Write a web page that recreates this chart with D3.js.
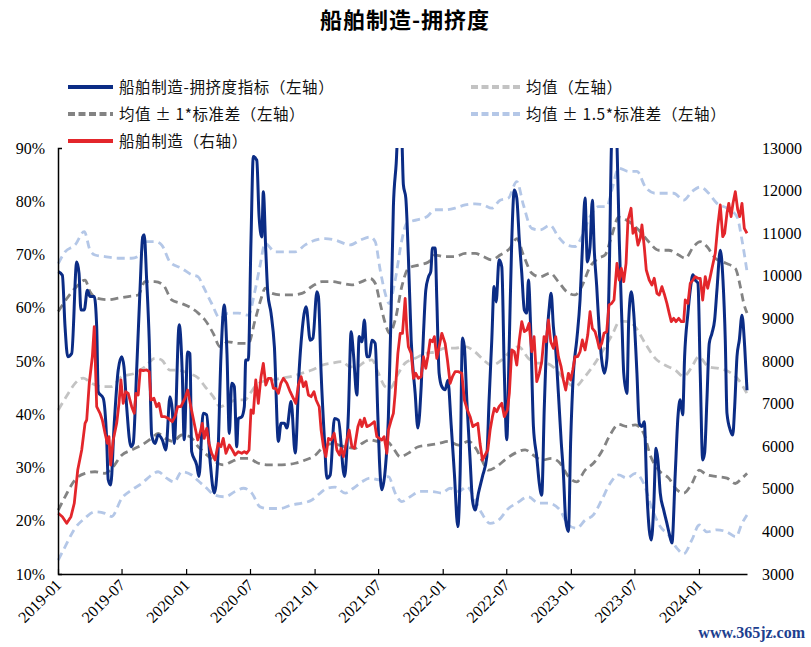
<!DOCTYPE html>
<html>
<head>
<meta charset="utf-8">
<script src="https://cdn.jsdelivr.net/npm/d3@7/dist/d3.min.js"></script>
<style>
body { margin: 0; background: #fff; }
</style>
</head>
<body>
<div id="chart"></div>
<script>
// time is decimal year, values: crowd index in %, shipbuilding index in points
var crowding = [
	[2019.002,66.8],[2019.034,66.1],[2019.055,56.4],[2019.076,50.8],[2019.107,51.4],[2019.146,68.6],[2019.164,66.5],
	[2019.179,59.6],[2019.205,59.6],[2019.229,63.3],[2019.250,62.1],[2019.283,62.1],[2019.302,56.4],[2019.314,44.2],
	[2019.353,43.0],[2019.380,35.2],[2019.392,27.7],[2019.411,26.7],[2019.439,38.3],[2019.470,48.3],[2019.497,50.8],
	[2019.515,48.9],[2019.536,41.4],[2019.569,33.9],[2019.587,34.5],[2019.614,48.3],[2019.640,63.3],[2019.661,73.3],
	[2019.673,73.7],[2019.692,65.2],[2019.712,53.9],[2019.731,36.1],[2019.757,34.5],[2019.782,36.1],[2019.814,35.2],
	[2019.842,33.3],[2019.874,43.3],[2019.892,40.8],[2019.907,34.5],[2019.946,56.8],[2019.970,47.7],[2019.985,35.2],
	[2020.012,51.7],[2020.030,51.4],[2020.043,33.0],[2020.082,30.5],[2020.100,28.3],[2020.133,40.2],[2020.160,39.9],
	[2020.186,31.4],[2020.219,25.2],[2020.246,31.4],[2020.271,50.8],[2020.297,60.5],[2020.318,51.4],[2020.336,36.4],
	[2020.355,45.8],[2020.375,45.2],[2020.394,33.9],[2020.406,39.2],[2020.433,39.5],[2020.453,41.4],[2020.464,50.2],
	[2020.484,50.2],[2020.505,72.7],[2020.523,88.4],[2020.550,87.7],[2020.568,77.1],[2020.589,73.3],[2020.601,81.8],
	[2020.620,70.8],[2020.636,62.7],[2020.661,59.0],[2020.687,52.7],[2020.718,34.9],[2020.739,38.3],[2020.765,38.3],
	[2020.784,37.4],[2020.817,42.4],[2020.849,32.7],[2020.880,48.3],[2020.901,55.2],[2020.934,60.2],[2020.966,53.9],
	[2020.987,54.3],[2021.018,63.0],[2021.030,62.1],[2021.051,47.7],[2021.077,35.2],[2021.096,28.0],[2021.122,28.6],
	[2021.155,39.2],[2021.186,38.9],[2021.233,28.3],[2021.264,40.2],[2021.285,55.5],[2021.303,51.4],[2021.330,43.6],
	[2021.348,54.6],[2021.369,53.6],[2021.389,57.7],[2021.408,50.8],[2021.428,50.8],[2021.447,53.9],[2021.473,53.3],
	[2021.494,39.5],[2021.506,31.4],[2021.525,25.8],[2021.551,29.5],[2021.576,39.5],[2021.598,60.2],[2021.615,79.0],
	[2021.637,87.1],[2021.656,95.5],[2021.679,93.0],[2021.693,83.1],[2021.712,80.6],[2021.732,69.6],[2021.754,53.9],
	[2021.785,43.9],[2021.806,37.4],[2021.832,45.2],[2021.850,55.2],[2021.868,63.3],[2021.889,65.8],[2021.907,66.8],
	[2021.920,71.2],[2021.941,71.2],[2021.954,61.5],[2021.972,47.7],[2021.993,45.2],[2022.019,44.6],[2022.040,46.4],
	[2022.066,38.0],[2022.091,28.9],[2022.118,18.9],[2022.136,28.9],[2022.154,54.3],[2022.169,52.7],[2022.188,42.7],
	[2022.214,31.4],[2022.232,23.9],[2022.253,22.0],[2022.279,25.2],[2022.310,28.3],[2022.344,32.0],[2022.362,42.7],
	[2022.383,53.9],[2022.401,64.0],[2022.417,61.1],[2022.440,69.0],[2022.461,67.7],[2022.481,47.7],[2022.500,35.2],
	[2022.520,53.9],[2022.539,72.7],[2022.559,82.1],[2022.578,80.6],[2022.598,72.7],[2022.617,66.5],[2022.637,59.6],
	[2022.656,59.0],[2022.669,65.2],[2022.687,55.8],[2022.708,37.7],[2022.734,32.0],[2022.754,27.0],[2022.773,24.8],
	[2022.793,41.4],[2022.812,53.9],[2022.830,59.6],[2022.846,62.7],[2022.864,56.4],[2022.882,52.1],[2022.903,43.9],
	[2022.924,35.2],[2022.942,28.9],[2022.960,20.1],[2022.981,18.0],[2022.999,35.2],[2023.020,47.7],[2023.046,53.9],
	[2023.072,61.5],[2023.093,72.7],[2023.111,80.6],[2023.129,68.6],[2023.150,71.5],[2023.168,80.2],[2023.183,70.8],
	[2023.202,64.0],[2023.220,56.4],[2023.241,50.2],[2023.261,47.7],[2023.282,50.5],[2023.300,66.5],[2023.319,92.0],
	[2023.341,97.0],[2023.360,91.0],[2023.378,72.7],[2023.399,57.1],[2023.413,47.7],[2023.438,43.9],[2023.452,57.7],
	[2023.472,63.0],[2023.491,59.0],[2023.516,47.7],[2023.534,38.3],[2023.555,37.7],[2023.573,38.6],[2023.594,25.2],
	[2023.612,18.3],[2023.628,16.4],[2023.647,22.6],[2023.665,33.6],[2023.680,31.4],[2023.698,25.2],[2023.725,22.0],
	[2023.750,19.5],[2023.768,17.6],[2023.789,15.8],[2023.815,28.9],[2023.836,39.5],[2023.854,42.7],[2023.873,39.9],
	[2023.888,50.8],[2023.914,59.0],[2023.932,63.3],[2023.953,66.2],[2023.971,65.2],[2023.992,64.6],[2024.010,47.7],
	[2024.029,31.4],[2024.044,32.7],[2024.062,42.7],[2024.080,53.3],[2024.101,55.2],[2024.122,57.7],[2024.140,63.3],
	[2024.166,70.8],[2024.187,65.2],[2024.205,53.9],[2024.218,40.2],[2024.244,37.0],[2024.263,36.1],[2024.278,41.4],
	[2024.296,50.8],[2024.314,53.9],[2024.335,58.6],[2024.356,52.7],[2024.374,44.5]
];

var shipIndex = [
	[2019.002,4425],[2019.034,4345],[2019.068,4190],[2019.101,4345],[2019.127,4660],[2019.154,5441],[2019.185,5910],
	[2019.211,6537],[2019.224,6615],[2019.244,7477],[2019.268,8100],[2019.283,8805],[2019.294,7711],[2019.302,6927],
	[2019.328,6772],[2019.346,6615],[2019.367,6303],[2019.385,6068],[2019.398,6224],[2019.411,5559],[2019.431,6146],
	[2019.458,6537],[2019.476,7007],[2019.491,7554],[2019.509,7007],[2019.528,7280],[2019.548,7241],[2019.575,6927],
	[2019.595,6772],[2019.608,7241],[2019.626,7202],[2019.642,7789],[2019.665,7773],[2019.692,7789],[2019.712,7750],
	[2019.725,7085],[2019.749,7124],[2019.770,6927],[2019.788,7007],[2019.809,6693],[2019.835,6693],[2019.860,6655],
	[2019.892,6576],[2019.913,6693],[2019.934,6927],[2019.959,6927],[2019.991,7124],[2020.012,7319],[2020.037,6927],
	[2020.063,6537],[2020.090,6146],[2020.108,6303],[2020.126,6537],[2020.141,6185],[2020.160,6420],[2020.178,6068],
	[2020.199,5834],[2020.225,5676],[2020.250,6068],[2020.271,5989],[2020.289,6185],[2020.310,5834],[2020.336,6028],
	[2020.360,5911],[2020.381,5794],[2020.406,5872],[2020.433,5834],[2020.453,5872],[2020.472,5834],[2020.490,5911],
	[2020.505,6850],[2020.523,6772],[2020.542,7554],[2020.562,7007],[2020.583,7632],[2020.601,7946],[2020.620,7437],
	[2020.640,7594],[2020.661,7594],[2020.679,7359],[2020.698,7359],[2020.718,7241],[2020.737,7476],[2020.757,7594],
	[2020.784,7476],[2020.810,7280],[2020.835,7124],[2020.854,7007],[2020.874,7437],[2020.895,7632],[2020.913,7398],
	[2020.932,7515],[2020.952,7202],[2020.973,7163],[2020.995,7280],[2021.012,7085],[2021.036,6927],[2021.051,6380],
	[2021.069,5989],[2021.088,5754],[2021.108,6185],[2021.129,6146],[2021.153,6303],[2021.174,5911],[2021.194,5794],
	[2021.207,5951],[2021.225,5754],[2021.252,6146],[2021.270,6380],[2021.291,5989],[2021.311,5951],[2021.338,6458],
	[2021.356,6615],[2021.369,6458],[2021.389,6655],[2021.408,6458],[2021.434,6498],[2021.467,6576],[2021.486,6224],
	[2021.506,6185],[2021.525,6146],[2021.543,6224],[2021.564,5834],[2021.576,6380],[2021.598,6615],[2021.615,6772],
	[2021.629,7241],[2021.650,8180],[2021.668,8650],[2021.686,8650],[2021.707,9472],[2021.720,8728],[2021.732,8336],
	[2021.754,8180],[2021.772,7594],[2021.790,7711],[2021.810,7594],[2021.832,7632],[2021.850,8101],[2021.868,7828],
	[2021.884,8101],[2021.902,8493],[2021.920,8453],[2021.935,8571],[2021.954,8063],[2021.972,8336],[2021.993,8650],
	[2022.019,8415],[2022.037,8024],[2022.058,7476],[2022.076,7632],[2022.097,7750],[2022.123,7750],[2022.149,7711],
	[2022.169,7085],[2022.193,6850],[2022.214,6693],[2022.235,6458],[2022.253,6498],[2022.274,6537],[2022.292,6050],
	[2022.310,5676],[2022.331,5794],[2022.352,5911],[2022.370,6380],[2022.388,6693],[2022.403,6890],[2022.422,6811],
	[2022.440,6928],[2022.461,7007],[2022.481,6693],[2022.505,6850],[2022.520,7241],[2022.539,8258],[2022.559,8218],
	[2022.578,7906],[2022.598,8493],[2022.617,8923],[2022.637,8688],[2022.656,8728],[2022.674,8884],[2022.695,8218],
	[2022.713,8571],[2022.734,7515],[2022.754,7711],[2022.773,7985],[2022.791,8571],[2022.807,8453],[2022.825,8962],
	[2022.843,8453],[2022.864,8297],[2022.882,8571],[2022.903,8101],[2022.924,7867],[2022.942,7554],[2022.960,7319],
	[2022.981,7711],[2022.999,7554],[2023.015,7789],[2023.033,8101],[2023.054,8101],[2023.072,8218],[2023.090,8493],
	[2023.111,8258],[2023.132,8610],[2023.150,9157],[2023.168,8767],[2023.189,8688],[2023.207,8493],[2023.222,8297],
	[2023.241,8415],[2023.259,8650],[2023.280,8688],[2023.298,9315],[2023.319,9354],[2023.337,9432],[2023.360,10293],
	[2023.378,9901],[2023.394,10176],[2023.413,9862],[2023.431,10293],[2023.446,11310],[2023.470,11585],[2023.485,10998],
	[2023.503,11115],[2023.524,10723],[2023.542,10880],[2023.555,11193],[2023.573,10684],[2023.589,10136],[2023.612,9901],
	[2023.633,9784],[2023.651,9941],[2023.672,9589],[2023.690,9549],[2023.711,9745],[2023.732,9549],[2023.750,9354],
	[2023.768,9119],[2023.784,8923],[2023.803,9002],[2023.821,8923],[2023.842,9002],[2023.862,8923],[2023.881,8923],
	[2023.893,9432],[2023.914,9354],[2023.932,9824],[2023.953,9901],[2023.971,9980],[2023.992,9941],[2024.010,9941],
	[2024.029,9432],[2024.049,9980],[2024.068,9706],[2024.088,9980],[2024.107,10254],[2024.127,10528],[2024.146,11153],
	[2024.166,11662],[2024.185,10918],[2024.200,10998],[2024.218,11467],[2024.232,11702],[2024.250,11389],[2024.265,11702],
	[2024.283,11975],[2024.302,11545],[2024.317,11389],[2024.335,11702],[2024.353,11115],[2024.374,10998]
];

var meanLine = [
	[2019.002,40.8],[2019.080,43.9],[2019.133,45.8],[2019.197,46.8],[2019.263,45.8],[2019.341,45.2],[2019.419,45.2],
	[2019.497,47.1],[2019.601,47.7],[2019.679,48.9],[2019.757,50.5],[2019.809,50.2],[2019.874,48.3],[2019.938,48.3],
	[2020.016,47.7],[2020.094,46.8],[2020.147,45.2],[2020.211,43.3],[2020.264,41.4],[2020.328,42.1],[2020.394,42.7],
	[2020.459,42.7],[2020.498,43.9],[2020.537,45.2],[2020.589,46.1],[2020.667,46.4],[2020.745,46.8],[2020.823,47.1],
	[2020.901,47.7],[2020.979,48.3],[2021.057,49.2],[2021.135,49.6],[2021.213,49.9],[2021.278,48.9],[2021.330,48.9],
	[2021.395,49.9],[2021.447,50.2],[2021.498,47.7],[2021.551,45.2],[2021.590,44.9],[2021.654,47.7],[2021.707,49.6],
	[2021.785,50.5],[2021.863,51.4],[2021.941,51.7],[2022.019,52.4],[2022.097,52.4],[2022.175,52.7],[2022.253,51.7],
	[2022.318,50.2],[2022.383,49.2],[2022.461,50.2],[2022.539,52.1],[2022.591,52.7],[2022.669,50.5],[2022.734,49.6],
	[2022.799,49.6],[2022.877,48.6],[2022.955,46.4],[2023.033,45.2],[2023.111,47.1],[2023.189,49.6],[2023.254,52.1],
	[2023.322,54.9],[2023.384,57.5],[2023.452,57.4],[2023.503,56.4],[2023.581,53.3],[2023.659,50.5],[2023.737,49.2],
	[2023.815,48.3],[2023.881,47.1],[2023.945,48.9],[2023.998,50.8],[2024.076,48.9],[2024.154,48.6],[2024.232,48.0],
	[2024.310,46.4],[2024.374,43.9]
];

var upper1 = [
	[2019.002,59.3],[2019.080,62.1],[2019.146,64.0],[2019.211,65.2],[2019.250,63.0],[2019.302,61.8],[2019.392,61.5],
	[2019.470,61.8],[2019.548,62.1],[2019.626,62.4],[2019.679,64.9],[2019.757,64.9],[2019.821,64.3],[2019.887,61.5],
	[2019.965,60.8],[2020.043,59.9],[2020.094,59.0],[2020.147,57.7],[2020.211,55.2],[2020.264,52.7],[2020.328,53.6],
	[2020.406,53.3],[2020.484,53.3],[2020.537,57.7],[2020.589,62.1],[2020.615,63.7],[2020.667,62.7],[2020.745,62.4],
	[2020.823,62.4],[2020.901,62.7],[2020.979,64.0],[2021.057,64.9],[2021.135,64.9],[2021.213,64.6],[2021.291,64.3],
	[2021.369,64.9],[2021.434,65.5],[2021.473,64.6],[2021.512,60.8],[2021.551,57.1],[2021.585,55.2],[2021.629,57.7],
	[2021.681,64.0],[2021.732,67.4],[2021.810,68.0],[2021.889,68.6],[2021.941,69.9],[2022.019,69.6],[2022.097,69.6],
	[2022.175,70.2],[2022.253,70.2],[2022.318,69.6],[2022.383,69.0],[2022.448,69.9],[2022.526,71.2],[2022.578,73.0],
	[2022.630,69.9],[2022.695,66.5],[2022.760,65.8],[2022.838,66.5],[2022.903,64.9],[2022.968,63.0],[2023.033,62.4],
	[2023.085,64.0],[2023.150,67.7],[2023.215,69.3],[2023.267,69.9],[2023.319,73.5],[2023.373,77.0],[2023.452,76.2],
	[2023.530,74.6],[2023.608,72.4],[2023.686,70.8],[2023.764,70.8],[2023.842,69.9],[2023.893,69.3],[2023.959,71.5],
	[2024.010,72.4],[2024.062,71.5],[2024.127,69.3],[2024.205,68.4],[2024.283,67.4],[2024.322,64.0],[2024.349,60.8],
	[2024.374,59.0]
];

var lower1 = [
	[2019.002,22.0],[2019.055,24.5],[2019.133,27.7],[2019.211,28.9],[2019.289,29.2],[2019.367,28.9],[2019.419,29.8],
	[2019.497,32.3],[2019.575,33.3],[2019.653,34.2],[2019.731,35.5],[2019.782,36.4],[2019.835,35.5],[2019.899,34.9],
	[2019.965,36.1],[2020.030,35.8],[2020.094,33.9],[2020.147,32.7],[2020.225,31.1],[2020.289,30.5],[2020.355,31.1],
	[2020.420,31.7],[2020.484,31.7],[2020.562,30.8],[2020.640,30.5],[2020.745,30.5],[2020.849,30.8],[2020.927,31.4],
	[2021.005,32.3],[2021.069,33.9],[2021.135,34.5],[2021.239,33.9],[2021.317,33.6],[2021.369,34.5],[2021.434,35.2],
	[2021.498,34.9],[2021.564,34.9],[2021.615,33.6],[2021.668,32.0],[2021.732,32.7],[2021.810,33.9],[2021.889,34.2],
	[2021.967,34.5],[2022.045,34.9],[2022.123,34.2],[2022.201,34.9],[2022.261,33.5],[2022.305,31.4],[2022.357,29.5],
	[2022.422,30.2],[2022.500,31.7],[2022.565,32.7],[2022.643,33.3],[2022.708,32.3],[2022.773,31.4],[2022.851,31.7],
	[2022.916,30.8],[2022.981,28.3],[2023.046,27.3],[2023.111,29.5],[2023.176,30.8],[2023.241,33.0],[2023.306,36.1],
	[2023.373,38.1],[2023.438,37.7],[2023.503,38.0],[2023.569,36.4],[2023.620,32.3],[2023.686,29.5],[2023.764,28.0],
	[2023.829,25.8],[2023.881,25.2],[2023.945,27.0],[2024.002,29.5],[2024.062,28.6],[2024.140,28.3],[2024.218,28.0],
	[2024.283,27.0],[2024.335,28.0],[2024.374,28.9]
];

var upper15 = [
	[2019.002,68.3],[2019.055,70.5],[2019.133,71.8],[2019.205,74.3],[2019.250,70.8],[2019.289,69.9],[2019.367,69.6],
	[2019.470,69.3],[2019.575,69.3],[2019.640,69.9],[2019.679,72.4],[2019.757,72.4],[2019.809,71.8],[2019.874,68.6],
	[2019.965,67.4],[2020.043,66.2],[2020.094,65.8],[2020.133,64.0],[2020.199,60.8],[2020.264,58.0],[2020.328,59.0],
	[2020.406,59.0],[2020.484,58.6],[2020.537,63.3],[2020.576,68.0],[2020.615,72.1],[2020.693,70.5],[2020.771,70.5],
	[2020.849,70.5],[2020.927,71.8],[2021.005,72.7],[2021.083,73.0],[2021.161,72.7],[2021.278,71.8],[2021.356,72.7],
	[2021.434,73.3],[2021.473,72.4],[2021.512,67.1],[2021.551,62.7],[2021.582,60.8],[2021.629,65.2],[2021.681,72.7],
	[2021.720,75.9],[2021.798,76.5],[2021.876,77.1],[2021.941,78.4],[2022.019,78.4],[2022.097,78.7],[2022.175,79.3],
	[2022.253,79.5],[2022.318,79.3],[2022.383,78.7],[2022.448,80.2],[2022.513,80.6],[2022.578,83.7],[2022.630,79.3],
	[2022.695,74.9],[2022.760,74.6],[2022.838,75.5],[2022.903,73.3],[2022.968,71.8],[2023.033,71.5],[2023.085,73.3],
	[2023.150,77.1],[2023.215,79.0],[2023.280,79.0],[2023.322,82.3],[2023.373,86.2],[2023.452,85.6],[2023.517,85.6],
	[2023.581,82.7],[2023.659,81.5],[2023.737,81.5],[2023.803,81.5],[2023.881,80.2],[2023.945,81.8],[2024.010,82.7],
	[2024.076,81.5],[2024.140,79.6],[2024.218,78.7],[2024.296,77.1],[2024.335,72.7],[2024.374,66.8]
];

var lower15 = [
	[2019.002,12.6],[2019.055,15.1],[2019.133,18.6],[2019.211,20.5],[2019.289,21.7],[2019.367,21.4],[2019.419,20.8],
	[2019.497,24.2],[2019.575,25.8],[2019.653,27.0],[2019.731,28.6],[2019.782,29.2],[2019.848,28.0],[2019.907,27.3],
	[2019.965,29.2],[2020.043,28.6],[2020.094,27.5],[2020.147,26.4],[2020.225,24.8],[2020.303,24.5],[2020.381,25.5],
	[2020.446,26.1],[2020.511,25.2],[2020.576,22.6],[2020.640,22.3],[2020.732,22.3],[2020.823,23.0],[2020.901,23.3],
	[2020.979,23.9],[2021.044,25.2],[2021.096,26.1],[2021.161,26.3],[2021.239,25.2],[2021.303,26.1],[2021.369,27.3],
	[2021.434,28.0],[2021.498,27.7],[2021.576,28.3],[2021.629,25.2],[2021.681,23.6],[2021.746,24.5],[2021.824,25.5],
	[2021.915,25.5],[2021.993,25.2],[2022.058,26.1],[2022.123,25.5],[2022.188,26.4],[2022.253,23.9],[2022.305,21.4],
	[2022.370,19.5],[2022.435,20.1],[2022.513,22.3],[2022.578,23.3],[2022.669,24.5],[2022.747,23.3],[2022.825,23.3],
	[2022.916,22.0],[2022.981,19.2],[2023.046,18.6],[2023.111,20.1],[2023.176,21.1],[2023.241,23.9],[2023.306,27.0],
	[2023.373,28.6],[2023.438,28.0],[2023.503,28.9],[2023.569,27.0],[2023.633,22.3],[2023.698,18.9],[2023.764,17.3],
	[2023.829,14.8],[2023.881,13.8],[2023.945,16.4],[2024.002,19.2],[2024.062,17.9],[2024.140,18.3],[2024.218,17.9],
	[2024.288,17.0],[2024.335,19.5],[2024.374,21.1]
];

var leftTicks = [10, 20, 30, 40, 50, 60, 70, 80, 90];
var rightTicks = [3000, 4000, 5000, 6000, 7000, 8000, 9000, 10000, 11000, 12000, 13000];
var xTickLabels = ["2019-01", "2019-07", "2020-01", "2020-07", "2021-01", "2021-07", "2022-01", "2022-07", "2023-01", "2023-07", "2024-01"];

var legendItems = [
	{ name: "船舶制造-拥挤度指标（左轴）", key: "crowd" },
	{ name: "均值（左轴）", key: "mean" },
	{ name: "均值 ± 1*标准差（左轴）", key: "std1" },
	{ name: "均值 ± 1.5*标准差（左轴）", key: "std15" },
	{ name: "船舶制造（右轴）", key: "ship" }
];

var styles = {
	crowd: { color: "#0b2c85", width: 3, dash: null },
	ship: { color: "#e3262b", width: 2.8, dash: null },
	mean: { color: "#c3c3c3", width: 2.8, dash: "8,5" },
	std1: { color: "#838383", width: 2.8, dash: "8,5" },
	std15: { color: "#b4c7e7", width: 2.8, dash: "8,5" }
};

var serif = "'Liberation Serif', 'Times New Roman', serif";

function yearToDate(t) {
	var y = Math.floor(t);
	var a = new Date(y, 0, 1), b = new Date(y + 1, 0, 1);
	return new Date(+a + (t - y) * (b - a));
}

var width = 811, height = 647;
var margin = { top: 148, right: 64, bottom: 73, left: 58 };
var innerW = width - margin.left - margin.right,
	innerH = height - margin.top - margin.bottom;

var svg = d3.select("#chart")
	.append("svg")
	.attr("width", width)
	.attr("height", height);

svg.append("text")
	.attr("x", 405)
	.attr("y", 28)
	.attr("text-anchor", "middle")
	.style("font-family", "'Noto Sans CJK SC', sans-serif")
	.style("font-weight", "bold")
	.style("font-size", "22px")
	.style("letter-spacing", "1px")
	.text("船舶制造-拥挤度");

// legend
var legendPos = [[68, 87], [471, 87], [68, 114], [471, 114], [68, 141]];
var legend = svg.append("g");
legendItems.forEach(function (d, i) {
	var s = styles[d.key];
	var p = legendPos[i];
	var lw = i % 2 === 0 ? 45 : 49;
	legend.append("line")
		.attr("x1", p[0]).attr("x2", p[0] + lw)
		.attr("y1", p[1]).attr("y2", p[1])
		.attr("stroke", s.color)
		.attr("stroke-width", 4)
		.attr("stroke-dasharray", s.dash ? "7,3.5" : null);
	legend.append("text")
		.attr("x", p[0] + lw + 6)
		.attr("y", p[1] + 6)
		.style("font-family", "'Noto Sans CJK SC', sans-serif")
		.style("font-size", "15.5px")
		.style("letter-spacing", "0.6px")
		.attr("fill", "#111")
		.text(d.name);
});

var g = svg.append("g")
	.attr("transform", "translate(" + margin.left + "," + margin.top + ")");

var x = d3.scaleTime()
	.domain([yearToDate(2019), yearToDate(crowding[crowding.length - 1][0])])
	.range([0, innerW]);

var yL = d3.scaleLinear().domain([10, 90]).range([innerH, 0]);
var yR = d3.scaleLinear().domain([3000, 13000]).range([innerH, 0]);

g.append("clipPath").attr("id", "plotClip")
	.append("rect").attr("x", -2).attr("y", 0).attr("width", innerW + 4).attr("height", innerH);

var lineL = d3.line()
	.x(function (d) { return x(yearToDate(d[0])); })
	.y(function (d) { return yL(d[1]); })
	.curve(d3.curveMonotoneX);

var lineR = d3.line()
	.x(function (d) { return x(yearToDate(d[0])); })
	.y(function (d) { return yR(d[1]); });

var plot = g.append("g").attr("clip-path", "url(#plotClip)");

var seriesList = [
	{ data: upper15, key: "std15", line: lineL },
	{ data: lower15, key: "std15", line: lineL },
	{ data: upper1, key: "std1", line: lineL },
	{ data: lower1, key: "std1", line: lineL },
	{ data: meanLine, key: "mean", line: lineL },
	{ data: crowding, key: "crowd", line: lineL },
	{ data: shipIndex, key: "ship", line: lineR }
];

seriesList.forEach(function (s) {
	var st = styles[s.key];
	plot.append("path")
		.datum(s.data)
		.attr("fill", "none")
		.attr("stroke", st.color)
		.attr("stroke-width", st.width)
		.attr("stroke-linejoin", "round")
		.attr("stroke-dasharray", st.dash)
		.attr("d", s.line);
});

// axes
var xTicks = xTickLabels.map(function (s) { return d3.timeParse("%Y-%m")(s); });
var xAxis = g.append("g")
	.attr("transform", "translate(0," + innerH + ")")
	.call(d3.axisBottom(x).tickValues(xTicks).tickSizeInner(-5).tickSizeOuter(0).tickFormat(d3.timeFormat("%Y-%m")));
xAxis.attr("font-family", serif);
xAxis.select(".domain").attr("stroke", "#000").attr("stroke-width", 1.5);
xAxis.selectAll(".tick line").attr("stroke", "#000").attr("stroke-width", 1.2);
xAxis.selectAll(".tick text")
	.attr("fill", "#000")
	.style("font-family", serif)
	.style("font-size", "16px")
	.attr("text-anchor", "end")
	.attr("dy", null)
	.attr("y", 0)
	.attr("transform", "translate(4,12) rotate(-45)");

var yAxisL = g.append("g")
	.call(d3.axisLeft(yL).tickValues(leftTicks).tickSizeInner(0).tickSizeOuter(-4).tickPadding(13)
		.tickFormat(function (d) { return d + "%"; }));
yAxisL.select(".domain").attr("stroke", "#000").attr("stroke-width", 1.5);
yAxisL.selectAll(".tick text").attr("fill", "#000").style("font-family", serif).style("font-size", "16px");

var yAxisR = g.append("g")
	.attr("transform", "translate(" + innerW + ",0)")
	.call(d3.axisRight(yR).tickValues(rightTicks).tickSize(0).tickPadding(15).tickFormat(d3.format("d")));
yAxisR.select(".domain").remove();
yAxisR.selectAll(".tick text").attr("fill", "#000").style("font-family", serif).style("font-size", "16px");

svg.append("text")
	.attr("x", 805)
	.attr("y", 638)
	.attr("text-anchor", "end")
	.attr("fill", "#1d3f8f")
	.style("font-family", serif)
	.style("font-size", "16px")
	.style("font-weight", "bold")
	.text("www.365jz.com");
</script>
</body>
</html>
